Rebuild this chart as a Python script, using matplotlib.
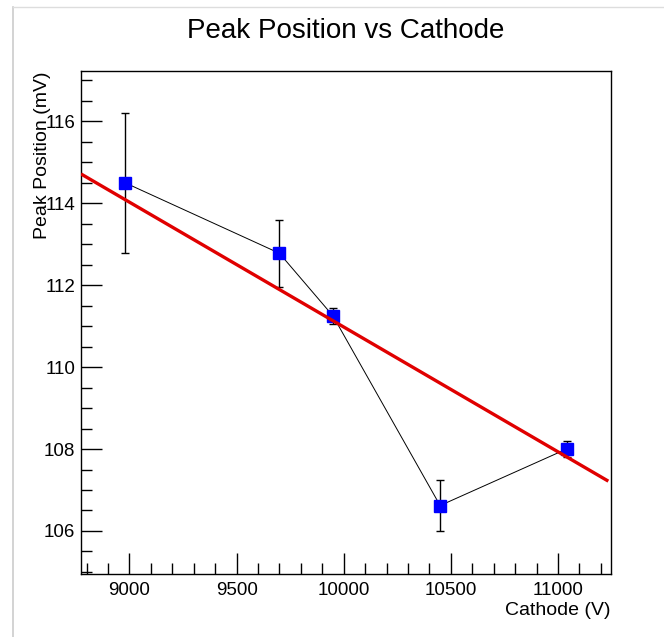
import numpy as np
import matplotlib
matplotlib.use('Agg')
import matplotlib.pyplot as plt
from matplotlib.ticker import MultipleLocator
from matplotlib.lines import Line2D

plt.rcParams['font.family'] = ['Liberation Sans', 'DejaVu Sans']

# =============================================================================
# Data
# =============================================================================
cathode_v  = np.array([8980, 9700, 9950, 10450, 11040])
peak_mv    = np.array([114.50, 112.78, 111.25, 106.62, 108.00])
peak_err   = np.array([1.71, 0.82, 0.20, 0.63, 0.20])

# linear fit parameters (red line)
fit_slope     = -0.003048
fit_intercept = 141.46
fit_range     = (8774, 11235)

x_range = (8774, 11246)
y_range = (104.95, 117.23)

# =============================================================================
# Plot
# =============================================================================
fig = plt.figure(figsize=(6.64, 6.37), dpi=100)
ax = fig.add_axes([0.122, 0.099, 0.7977, 0.7895])

ax.errorbar(cathode_v, peak_mv, yerr=peak_err, fmt='none', ecolor='black',
            elinewidth=1.0, capsize=3.2, capthick=1.0, zorder=2)
ax.plot(cathode_v, peak_mv, '-', color='black', lw=0.7, zorder=3)
ax.plot(cathode_v, peak_mv, 's', color='#0000ff', ms=8.5, mec='#0000ff',
        zorder=4, linestyle='none')

xf = np.linspace(fit_range[0], fit_range[1], 100)
ax.plot(xf, fit_slope * xf + fit_intercept, '-', color='#e00000', lw=2.4,
        zorder=5, solid_capstyle='butt')

ax.set_xlim(*x_range)
ax.set_ylim(*y_range)

ax.xaxis.set_major_locator(MultipleLocator(500))
ax.xaxis.set_minor_locator(MultipleLocator(100))
ax.yaxis.set_major_locator(MultipleLocator(2))
ax.yaxis.set_minor_locator(MultipleLocator(0.5))
ax.tick_params(which='both', direction='in', top=False, right=False,
               labelsize=13.5, width=1.0)
ax.tick_params(axis='x', pad=6)
ax.tick_params(axis='y', pad=4)
ax.tick_params(which='major', length=15)
ax.tick_params(which='minor', length=8)
for s in ax.spines.values():
    s.set_linewidth(1.0)

ax.set_xlabel('Cathode (V)', fontsize=14)
ax.xaxis.set_label_coords(1.0, -0.0736)
ax.xaxis.label.set_ha('right')
ax.xaxis.label.set_va('center')

ax.set_ylabel('Peak Position (mV)', fontsize=14)
ax.yaxis.set_label_coords(-0.0736, 1.0)
ax.yaxis.label.set_ha('right')
ax.yaxis.label.set_va('center')

fig.text(0.52, 0.952, 'Peak Position vs Cathode', ha='center', va='center',
         fontsize=20)

# light screenshot border
fig.add_artist(Line2D([0.0196, 0.0196], [0, 0.989], color='#cccccc', lw=1.2))
fig.add_artist(Line2D([0.0196, 1.0], [0.989, 0.989], color='#dddddd', lw=1.0))

fig.savefig('out.png', dpi=100)
